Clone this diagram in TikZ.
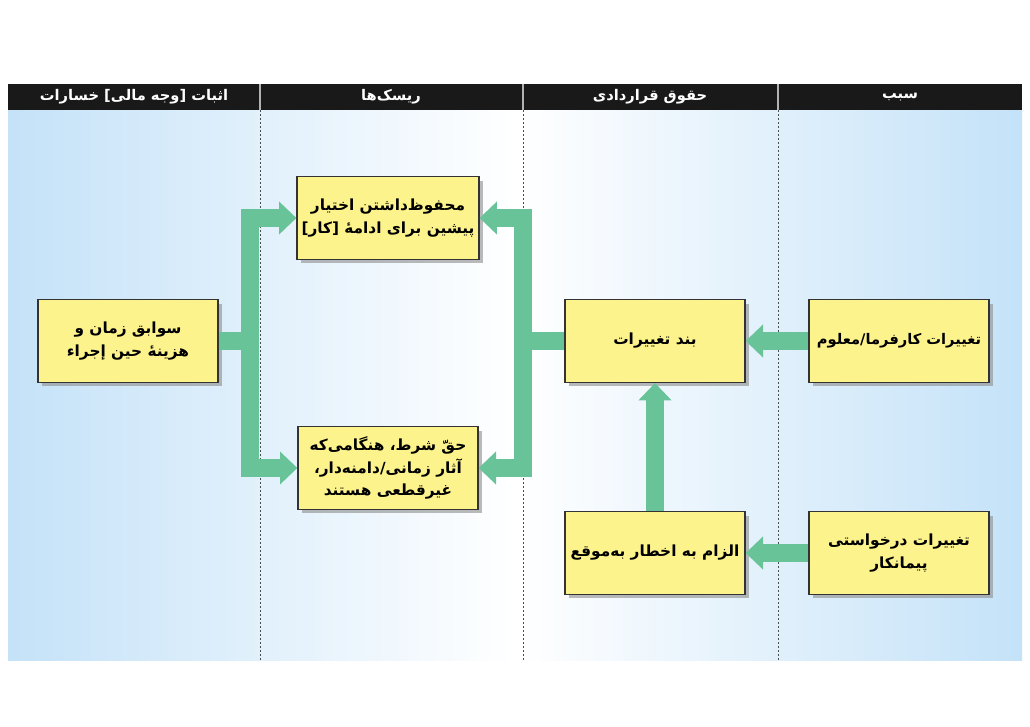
\documentclass[tikz,border=0pt]{standalone}
\usepackage{fontspec}
\usetikzlibrary{arrows.meta,shadows}
\TeXXeTstate=1
\newfontfamily\arabicfont[Script=Arabic]{DejaVu Sans}
\newcommand{\ar}[1]{\beginR #1\endR}
\definecolor{flowc}{RGB}{104,196,152}
\definecolor{boxc}{RGB}{253,243,140}
\definecolor{bgblue}{RGB}{196,226,248}
\tikzset{
  box/.style={draw=black!80,line width=1pt,fill=boxc,minimum width=135pt,minimum height=62pt,align=center,font=\arabicfont\bfseries\fontsize{11.5}{17}\selectfont,drop shadow={shadow xshift=3pt,shadow yshift=-3pt,fill=black!45,opacity=0.6}},
  head/.style={text=white,font=\arabicfont\bfseries\fontsize{11}{13}\selectfont},
  flow/.style={draw=flowc,line width=13.5pt},
  flowa/.style={flow,-{Triangle[width=24pt,length=13pt]}},
  divl/.style={draw=black!70,dashed,dash pattern=on 1.5pt off 1.5pt,line width=0.7pt}
}
\begin{document}
\begin{tikzpicture}[x=0.75pt,y=-0.75pt]
\useasboundingbox (0,0) rectangle (1030,726);
\fill[white] (0,0) rectangle (1030,726);
\shade[left color=bgblue,right color=bgblue,middle color=white] (8,110) rectangle (1022,660);
\fill[black!90] (8,84) rectangle (1022,110);
\foreach \x in {260,523,778}{\draw[white!70!black,line width=1pt] (\x,84)--(\x,110); \draw[divl] (\x,110)--(\x,660);}
\node[head] (h1) at (134,97) {\ar{اثبات [وجه مالی] خسارات}};
\node[head] (h2) at (391,97) {\ar{ریسک‌ها}};
\node[head] (h3) at (650,97) {\ar{حقوق قراردادی}};
\node[head] (h4) at (900,97) {\ar{سبب}};
% boxes
\node[box] (L) at (128,341) {\ar{سوابق زمان و}\\\ar{هزینهٔ حین إجراء}};
\node[box] (T) at (388,218) {\ar{محفوظ‌داشتن اختیار}\\\ar{پیشین برای ادامهٔ [کار]}};
\node[box] (B) at (388,468) {\ar{حقّ شرط، هنگامی‌که}\\\ar{آثار زمانی/دامنه‌دار،}\\\ar{غیرقطعی هستند}};
\node[box] (C) at (655,341) {\ar{بند تغییرات}};
\node[box,font=\arabicfont\bfseries\fontsize{11}{17}\selectfont] (R) at (899,341) {\ar{تغییرات کارفرما/معلوم}};
\node[box] (BC) at (655,553) {\ar{الزام به اخطار به‌موقع}};
\node[box] (BR) at (899,553) {\ar{تغییرات درخواستی}\\\ar{پیمانکار}};
% connectors
\coordinate (jl) at (250,341);
\coordinate (jr) at (523,341);
\draw[flow] (L.east) -- (jl);
\draw[flowa] (jl) |- (T.west);
\draw[flowa] (jl) |- (B.west);
\draw[flow] (C.west) -- (jr);
\draw[flowa] (jr) |- (T.east);
\draw[flowa] (jr) |- (B.east);
\draw[flowa] (R.west) -- (C.east);
\draw[flowa] (BR.west) -- (BC.east);
\draw[flowa] (BC.north) -- (C.south);
\end{tikzpicture}
\end{document}
